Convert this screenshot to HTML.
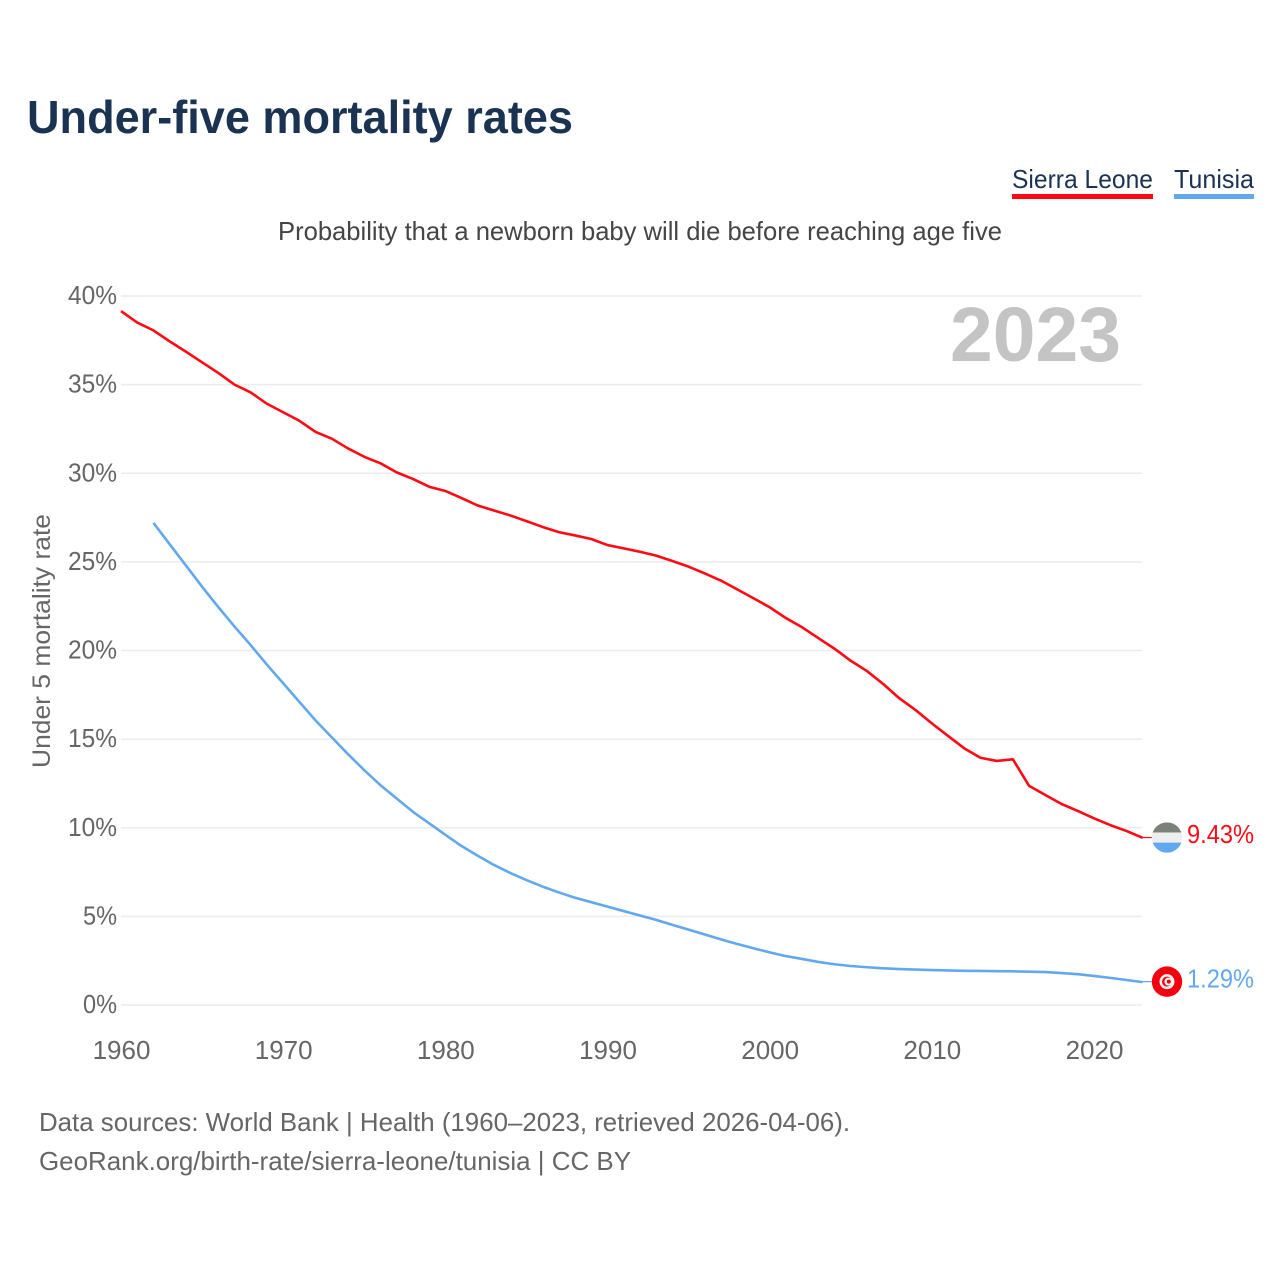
<!DOCTYPE html>
<html lang="en">
<head>
<meta charset="utf-8">
<title>Under-five mortality rates</title>
<style>
html,body{margin:0;padding:0;background:#fff;width:1280px;height:1280px;overflow:hidden}
svg{display:block}
text{font-family:"Liberation Sans",sans-serif}
</style>
</head>
<body>
<svg id="chart" width="1280" height="1280" viewBox="0 0 1280 1280" xmlns="http://www.w3.org/2000/svg">
  <text x="27" y="133" font-size="46" font-weight="700" fill="#1b3353" textLength="546" lengthAdjust="spacingAndGlyphs">Under-five mortality rates</text>
  <text x="1012" y="188" font-size="26" fill="#1b3353" textLength="141" lengthAdjust="spacingAndGlyphs">Sierra Leone</text>
  <rect x="1012" y="194" width="141" height="5" fill="#ff0a14"/>
  <text x="1174" y="188" font-size="26" fill="#1b3353" textLength="80" lengthAdjust="spacingAndGlyphs">Tunisia</text>
  <rect x="1174" y="194" width="80" height="5" fill="#62a8ef"/>
  <text x="278" y="240" font-size="26" fill="#454545" textLength="724" lengthAdjust="spacingAndGlyphs">Probability that a newborn baby will die before reaching age five</text>
  <g id="grid"></g>
  <g id="yticks"></g>
  <g id="xticks"></g>
  <text x="950" y="361" font-size="77" font-weight="700" fill="#c4c4c4" textLength="171" lengthAdjust="spacingAndGlyphs">2023</text>
  <text transform="translate(50,768) rotate(-90)" font-size="25" fill="#666666" textLength="254" lengthAdjust="spacingAndGlyphs">Under 5 mortality rate</text>
  <g id="series"></g>
  <g id="ends"></g>
  <text x="39" y="1131" font-size="26" fill="#666666" textLength="811" lengthAdjust="spacingAndGlyphs">Data sources: World Bank | Health (1960–2023, retrieved 2026-04-06).</text>
  <text x="39" y="1170" font-size="26" fill="#666666" textLength="592" lengthAdjust="spacingAndGlyphs">GeoRank.org/birth-rate/sierra-leone/tunisia | CC BY</text>
</svg>
<script>
const years = [1960,1961,1962,1963,1964,1965,1966,1967,1968,1969,
  1970,1971,1972,1973,1974,1975,1976,1977,1978,1979,
  1980,1981,1982,1983,1984,1985,1986,1987,1988,1989,
  1990,1991,1992,1993,1994,1995,1996,1997,1998,1999,
  2000,2001,2002,2003,2004,2005,2006,2007,2008,2009,
  2010,2011,2012,2013,2014,2015,2016,2017,2018,2019,
  2020,2021,2022,2023];
const sierraLeone = [39.15,38.5,38.06,37.44,36.86,36.26,35.66,35.0,34.56,33.92,
  33.44,32.96,32.33,31.95,31.4,30.93,30.56,30.05,29.68,29.24,
  29.0,28.6,28.18,27.9,27.62,27.3,26.97,26.68,26.49,26.29,
  25.95,25.76,25.57,25.35,25.05,24.73,24.35,23.94,23.45,22.95,
  22.44,21.83,21.31,20.7,20.1,19.42,18.84,18.11,17.3,16.64,
  15.89,15.18,14.48,13.95,13.77,13.86,12.36,11.85,11.34,10.95,
  10.53,10.15,9.82,9.43];
const tunisia = [null,null,27.2,26.0,24.8,23.6,22.45,21.35,20.3,19.2,
  18.15,17.1,16.05,15.1,14.15,13.25,12.4,11.65,10.9,10.25,
  9.6,8.97,8.42,7.9,7.45,7.05,6.68,6.35,6.05,5.8,
  5.55,5.3,5.05,4.8,4.52,4.25,3.98,3.7,3.44,3.2,
  2.97,2.76,2.6,2.43,2.3,2.2,2.13,2.07,2.03,2.0,
  1.97,1.95,1.93,1.92,1.91,1.9,1.88,1.86,1.8,1.74,
  1.64,1.53,1.41,1.29];
const yTicks = [0,5,10,15,20,25,30,35,40];
const xTicks = [1960,1970,1980,1990,2000,2010,2020];

const SVGNS = 'http://www.w3.org/2000/svg';
const RED = '#ff0a14';
const BLUE = '#62a8ef';
const xScale = function (yr) { return 121 + (yr - 1960) * (973 / 60); };
const yScale = function (v) { return 1005 - v * 17.725; };
const X_END = xScale(2023);

function el(tag, parent, attrs) {
  const n = document.createElementNS(SVGNS, tag);
  for (const k in attrs) n.setAttribute(k, attrs[k]);
  parent.appendChild(n);
  return n;
}

const gridG = document.getElementById('grid');
const yG = document.getElementById('yticks');
yTicks.forEach(function (t) {
  const line = el('line', gridG, {x1: 121, x2: 1142, y1: yScale(t), y2: yScale(t), stroke: '#ececec', 'stroke-width': 1.6});
  
  
  const label = el('text', yG, {x: 117, y: yScale(t) + 8, 'font-size': 26, 'text-anchor': 'end', fill: '#666666', textLength: t < 10 ? 34 : 49, lengthAdjust: 'spacingAndGlyphs'});
  label.textContent = t + '%';
  
  
});

const xG = document.getElementById('xticks');
xTicks.forEach(function (t) {
  const label = el('text', xG, {x: xScale(t) + 0.5, y: 1059, 'font-size': 26, 'text-anchor': 'middle', fill: '#666666'});
  label.textContent = String(t);
  
  
});

function linePath(values) {
  let d = '';
  values.forEach(function (v, i) {
    if (v === null) return;
    d += (d ? 'L' : 'M') + xScale(years[i]).toFixed(2) + ' ' + yScale(v).toFixed(2);
  });
  return d;
}

const seriesG = document.getElementById('series');
const redLine = el('path', seriesG, {d: linePath(sierraLeone), fill: 'none', stroke: RED, 'stroke-width': 2.6, 'stroke-linejoin': 'round'});


const blueLine = el('path', seriesG, {d: linePath(tunisia), fill: 'none', stroke: BLUE, 'stroke-width': 2.6, 'stroke-linejoin': 'round'});



const endsG = document.getElementById('ends');
const lastRed = sierraLeone[sierraLeone.length - 1];
const lastBlue = tunisia[tunisia.length - 1];
const cx = 1167;
const ry = yScale(lastRed) - 0.3;
const by = yScale(lastBlue) - 0.5;
const r = 15.2;

const redLead = el('line', endsG, {x1: X_END, x2: cx - r, y1: ry, y2: ry, stroke: RED, 'stroke-width': 1.2});


const blueLead = el('line', endsG, {x1: X_END, x2: cx - r, y1: by, y2: by, stroke: BLUE, 'stroke-width': 1.2});



const defs = el('defs', endsG, {});
const clip = el('clipPath', defs, {id: 'sl-clip'});
el('circle', clip, {cx: cx, cy: ry, r: r});

const slFlag = el('g', endsG, {'clip-path': 'url(#sl-clip)'});


el('rect', slFlag, {x: cx - r, y: ry - r, width: 2 * r, height: r * 2 / 3, fill: '#7b8279'});
el('rect', slFlag, {x: cx - r, y: ry - r / 3, width: 2 * r, height: r * 2 / 3, fill: '#eeeeee'});
el('rect', slFlag, {x: cx - r, y: ry + r / 3, width: 2 * r, height: r * 2 / 3, fill: '#62a8ef'});

const tnFlag = el('g', endsG, {});


el('circle', tnFlag, {cx: cx, cy: by, r: r, fill: '#f5000f'});
el('circle', tnFlag, {cx: cx, cy: by, r: 7.5, fill: '#f4f4f4'});
el('circle', tnFlag, {cx: cx, cy: by, r: 5, fill: '#f5000f'});
el('circle', tnFlag, {cx: cx + 1.4, cy: by, r: 4, fill: '#f4f4f4'});
el('circle', tnFlag, {cx: cx + 1.8, cy: by, r: 2, fill: '#f5000f'});

const redVal = el('text', endsG, {x: 1187, y: ry + 5.5, 'font-size': 26, fill: RED, textLength: 67, lengthAdjust: 'spacingAndGlyphs'});
redVal.textContent = lastRed.toFixed(2) + '%';


const blueVal = el('text', endsG, {x: 1187, y: by + 6, 'font-size': 26, fill: BLUE, textLength: 67, lengthAdjust: 'spacingAndGlyphs'});
blueVal.textContent = lastBlue.toFixed(2) + '%';


</script>
</body>
</html>
